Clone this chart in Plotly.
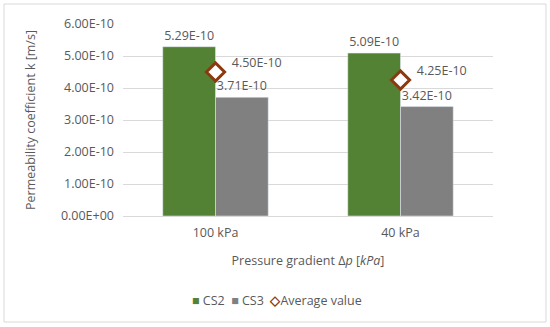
import plotly.graph_objects as go

categories = ["100 kPa", "40 kPa"]
cs2 = [5.29e-10, 5.09e-10]
cs3 = [3.71e-10, 3.42e-10]
avg = [4.50e-10, 4.25e-10]
yticks = [0, 1e-10, 2e-10, 3e-10, 4e-10, 5e-10, 6e-10]
yticklabels = ["0.00E+00", "1.00E-10", "2.00E-10", "3.00E-10", "4.00E-10", "5.00E-10", "6.00E-10"]
series_names = ["CS2", "CS3", "Average value"]

W, H = 550, 327
ML, MR, MT, MB = 123, 57, 24, 111
FONT = "Open Sans"
TXT = "#595959"
GREEN, GRAY, BROWN = "#548235", "#808080", "#8B3A0F"
FS = 12.5

fig = go.Figure()
fig.add_trace(go.Bar(
    x=categories, y=cs2, name=series_names[0], marker_color=GREEN,
    text=[f"{v:.2E}" for v in cs2], textposition="outside",
    textfont=dict(color=TXT, size=FS, family=FONT), cliponaxis=False,
))
fig.add_trace(go.Bar(
    x=categories, y=cs3, name=series_names[1], marker_color=GRAY,
    text=[f"{v:.2E}" for v in cs3], textposition="outside",
    textfont=dict(color=TXT, size=FS, family=FONT), cliponaxis=False,
))
fig.add_trace(go.Scatter(
    x=categories, y=avg, name=series_names[2], mode="markers+text",
    marker=dict(symbol="diamond", size=14, color="white",
                line=dict(color=BROWN, width=3)),
    text=["  " + f"{v:.2E}" + "<br> " for v in avg], textposition="middle right",
    textfont=dict(color=TXT, size=FS, family=FONT), cliponaxis=False,
))

pw = W - ML - MR
ph = H - MT - MB
fig.add_shape(type="rect", xref="paper", yref="paper",
              x0=(4 - ML) / pw, x1=(546 - ML) / pw,
              y0=(H - MB - 322) / ph, y1=(H - MB - 4) / ph,
              line=dict(color="#D9D9D9", width=1), layer="below")

legend_text = (
    f"<span style='color:{GREEN}'>■</span> {series_names[0]}  "
    f"<span style='color:{GRAY}'>■</span> {series_names[1]}  "
    f"<span style='color:{BROWN}'><b>◇</b></span>{series_names[2]}"
)
fig.add_annotation(text=legend_text, xref="paper", yref="paper",
                   x=(277 - ML) / pw, y=(H - MB - 300) / ph,
                   xanchor="center", yanchor="middle", showarrow=False,
                   font=dict(size=FS, color=TXT, family=FONT))

fig.update_layout(
    width=W, height=H,
    margin=dict(l=ML, r=MR, t=MT, b=MB, autoexpand=False),
    paper_bgcolor="white", plot_bgcolor="white",
    barmode="group", bargap=0.43, bargroupgap=0,
    font=dict(family=FONT, color=TXT, size=FS),
    showlegend=False,
    xaxis=dict(showline=True, linecolor="#D9D9D9", linewidth=1, ticks="",
               automargin=False,
               tickfont=dict(size=FS, color=TXT), ticklabelstandoff=5,
               title=dict(text="Pressure gradient Δ<i>p</i> [<i>kPa</i>]",
                          font=dict(size=FS, color=TXT), standoff=16)),
    yaxis=dict(range=[0, 6e-10], tickvals=yticks, ticktext=yticklabels,
               automargin=False,
               showgrid=True, gridcolor="#D9D9D9", gridwidth=1, zeroline=False,
               tickfont=dict(size=FS, color=TXT), ticks="", ticklabelstandoff=8,
               title=dict(text="Permeability coefficient k [m/s]",
                          font=dict(size=FS, color=TXT), standoff=22)),
)

fig.write_html("out.html", config={"displayModeBar": False},
               post_script="document.body.style.margin='0';document.body.style.overflow='hidden';")
